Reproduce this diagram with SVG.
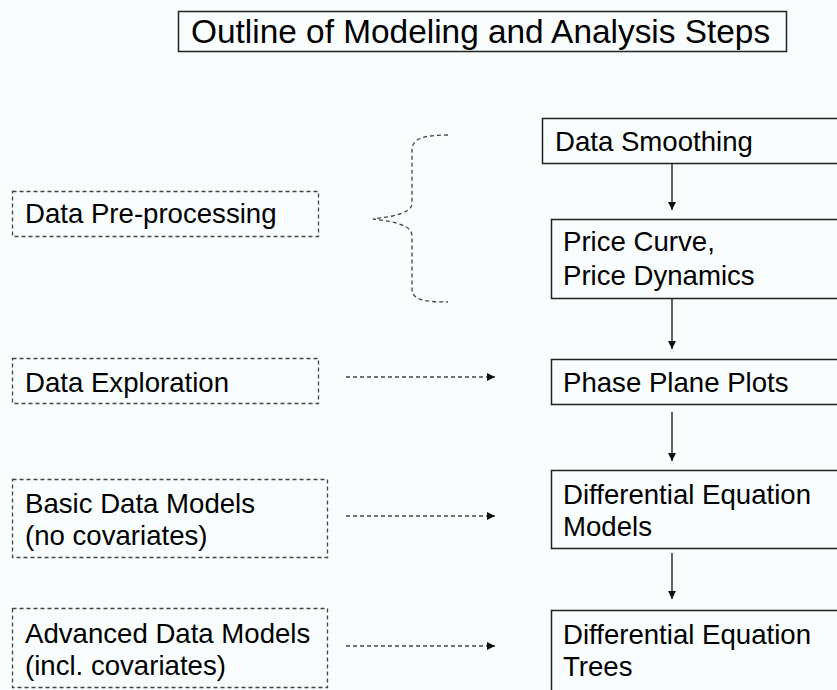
<svg xmlns="http://www.w3.org/2000/svg" width="837" height="690" viewBox="0 0 837 690">
  <style>
    text { font-family: "Liberation Sans", Arial, sans-serif; font-size: 27.6px; fill: #000; }
    .title { font-size: 33.4px; }
    .step { fill: none; stroke: #222; stroke-width: 1.5; }
    .aspect { fill: none; stroke: #444; stroke-width: 1.3; stroke-dasharray: 4 3; }
    .flow { fill: none; stroke: #111; stroke-width: 1.3; }
    .link { fill: none; stroke: #444; stroke-width: 1.3; stroke-dasharray: 4 3; }
  </style>
  <defs>
    <marker id="tip" viewBox="0 0 10 10" refX="10" refY="5" markerWidth="8" markerHeight="8" markerUnits="userSpaceOnUse" orient="auto">
      <path d="M0,0 L10,5 L0,10 Z" fill="#111"/>
    </marker>
  </defs>
  <rect width="837" height="690" fill="#f9fdfd"/>

  <g id="title">
    <rect x="178.5" y="11.5" width="608" height="40" class="step"/>
    <text class="title" x="191" y="43">Outline of Modeling and Analysis Steps</text>
  </g>

  <!-- analysis aspects (dashed, left column) -->
  <g id="pre-processing">
    <rect x="12.5" y="191.5" width="306" height="45" class="aspect"/>
    <text x="25" y="223">Data Pre-processing</text>
  </g>
  <g id="exploration">
    <rect x="12.5" y="358.5" width="306" height="45" class="aspect"/>
    <text x="25" y="392">Data Exploration</text>
  </g>
  <g id="basic-models">
    <rect x="12.5" y="479.5" width="315" height="78" class="aspect"/>
    <text x="25" y="513">Basic Data Models</text>
    <text x="25" y="545">(no covariates)</text>
  </g>
  <g id="advanced-models">
    <rect x="12.5" y="608.5" width="315" height="79" class="aspect"/>
    <text x="25" y="643">Advanced Data Models</text>
    <text x="25" y="675">(incl. covariates)</text>
  </g>

  <!-- modeling steps (solid, right column) -->
  <g id="smoothing">
    <rect x="542.5" y="118.5" width="300" height="45" class="step"/>
    <text x="555" y="151">Data Smoothing</text>
  </g>
  <g id="price-curve">
    <rect x="551.5" y="219.5" width="300" height="79" class="step"/>
    <text x="563" y="251">Price Curve,</text>
    <text x="563" y="285">Price Dynamics</text>
  </g>
  <g id="phase-plane">
    <rect x="551.5" y="359.5" width="300" height="45" class="step"/>
    <text x="563" y="392">Phase Plane Plots</text>
  </g>
  <g id="de-models">
    <rect x="551.5" y="470.5" width="300" height="78" class="step"/>
    <text x="563" y="504">Differential Equation</text>
    <text x="563" y="536">Models</text>
  </g>
  <g id="de-trees">
    <rect x="551.5" y="610.5" width="300" height="85" class="step"/>
    <text x="563" y="644">Differential Equation</text>
    <text x="563" y="676">Trees</text>
  </g>

  <g id="connectors">
    <line x1="672" y1="164" x2="672" y2="210" class="flow" marker-end="url(#tip)"/>
    <line x1="672" y1="299" x2="672" y2="349" class="flow" marker-end="url(#tip)"/>
    <line x1="672" y1="412" x2="672" y2="461" class="flow" marker-end="url(#tip)"/>
    <line x1="672" y1="553" x2="672" y2="599" class="flow" marker-end="url(#tip)"/>

    <line x1="346" y1="377" x2="495" y2="377" class="link" marker-end="url(#tip)"/>
    <line x1="346" y1="516" x2="495" y2="516" class="link" marker-end="url(#tip)"/>
    <line x1="346" y1="646" x2="495" y2="646" class="link" marker-end="url(#tip)"/>

    <!-- brace grouping smoothing and price curve -->
    <path d="M448,135 C425,135 412,138 412,150 L412,203 C412,212 398,216 373,219 C398,222 412,226 412,236 L412,289 C412,300 425,302 448,302" class="link"/>
  </g>
</svg>
